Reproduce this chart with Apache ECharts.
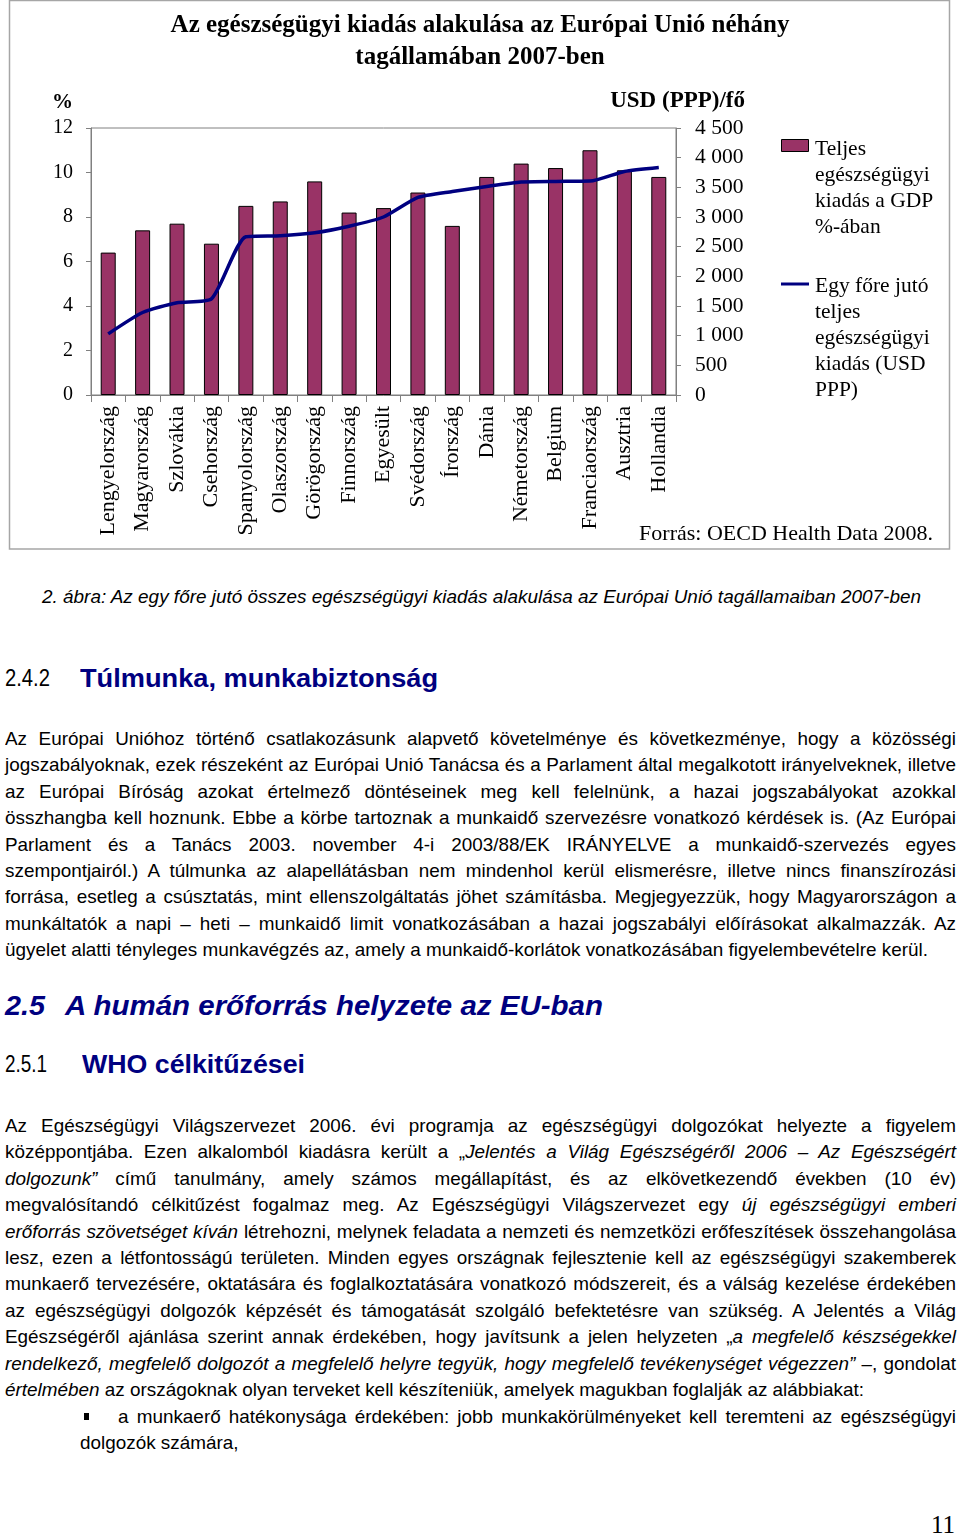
<!DOCTYPE html>
<html><head><meta charset="utf-8">
<script src="https://cdn.jsdelivr.net/npm/echarts@6/dist/echarts.min.js"></script>
<style>
html,body{margin:0;padding:0;background:#fff;}
#page{position:relative;width:960px;height:1536px;overflow:hidden;background:#fff;}
#chart{position:absolute;left:0;top:0;width:960px;height:560px;}
.ln{position:absolute;left:5px;font-family:"Liberation Sans",Arial,sans-serif;font-size:19px;line-height:26px;white-space:nowrap;transform-origin:0 0;color:#000;}
.h{position:absolute;font-family:"Liberation Sans",Arial,sans-serif;white-space:nowrap;transform-origin:0 0;line-height:30px;}
.navy{color:#000080;font-weight:bold;}
</style></head>
<body><div id="page">
<div id="chart"></div>

<div class="h fit" data-w="879" style="left:42px;top:584px;font-size:19px;font-style:italic;line-height:26px;">2. ábra: Az egy főre jutó összes egészségügyi kiadás alakulása az Európai Unió tagállamaiban 2007-ben</div>

<div class="h fit" data-w="45" style="left:5px;top:663px;font-size:24px;">2.4.2</div>
<div class="h fit navy" data-w="358" style="left:80px;top:663px;font-size:26.5px;">Túlmunka, munkabiztonság</div>

<div class="ln j" style="top:726px">Az Európai Unióhoz történő csatlakozásunk alapvető követelménye és következménye, hogy a közösségi</div>
<div class="ln j" style="top:752px">jogszabályoknak, ezek részeként az Európai Unió Tanácsa és a Parlament által megalkotott irányelveknek, illetve</div>
<div class="ln j" style="top:779px">az Európai Bíróság azokat értelmező döntéseinek meg kell felelnünk, a hazai jogszabályokat azokkal</div>
<div class="ln j" style="top:805px">összhangba kell hoznunk. Ebbe a körbe tartoznak a munkaidő szervezésre vonatkozó kérdések is. (Az Európai</div>
<div class="ln j" style="top:832px">Parlament és a Tanács 2003. november 4-i 2003/88/EK IRÁNYELVE a munkaidő-szervezés egyes</div>
<div class="ln j" style="top:858px">szempontjairól.) A túlmunka az alapellátásban nem mindenhol kerül elismerésre, illetve nincs finanszírozási</div>
<div class="ln j" style="top:884px">forrása, esetleg a csúsztatás, mint ellenszolgáltatás jöhet számításba. Megjegyezzük, hogy Magyarországon a</div>
<div class="ln j" style="top:911px">munkáltatók a napi – heti – munkaidő limit vonatkozásában a hazai jogszabályi előírásokat alkalmazzák. Az</div>
<div class="ln" id="refline" style="top:937px">ügyelet alatti tényleges munkavégzés az, amely a munkaidő-korlátok vonatkozásában figyelembevételre kerül.</div>

<div class="h fit" data-w="40" style="left:5px;top:991px;font-size:27px;font-weight:bold;font-style:italic;color:#000080;">2.5</div>
<div class="h fit" data-w="538" style="left:65px;top:991px;font-size:27px;font-weight:bold;font-style:italic;color:#000080;">A humán erőforrás helyzete az EU-ban</div>

<div class="h fit" data-w="42" style="left:5px;top:1049px;font-size:24px;">2.5.1</div>
<div class="h fit navy" data-w="223" style="left:82px;top:1049px;font-size:26.5px;">WHO célkitűzései</div>

<div class="ln j" style="top:1113px">Az Egészségügyi Világszervezet 2006. évi programja az egészségügyi dolgozókat helyezte a figyelem</div>
<div class="ln j" style="top:1139px">középpontjába. Ezen alkalomból kiadásra került a „<i>Jelentés a Világ Egészségéről 2006 – Az Egészségért</i></div>
<div class="ln j" style="top:1166px"><i>dolgozunk”</i> című tanulmány, amely számos megállapítást, és az elkövetkezendő években (10 év)</div>
<div class="ln j" style="top:1192px">megvalósítandó célkitűzést fogalmaz meg. Az Egészségügyi Világszervezet egy <i>új egészségügyi emberi</i></div>
<div class="ln j" style="top:1219px"><i>erőforrás szövetséget kíván</i> létrehozni, melynek feladata a nemzeti és nemzetközi erőfeszítések összehangolása</div>
<div class="ln j" style="top:1245px">lesz, ezen a létfontosságú területen. Minden egyes országnak fejlesztenie kell az egészségügyi szakemberek</div>
<div class="ln j" style="top:1271px">munkaerő tervezésére, oktatására és foglalkoztatására vonatkozó módszereit, és a válság kezelése érdekében</div>
<div class="ln j" style="top:1298px">az egészségügyi dolgozók képzését és támogatását szolgáló befektetésre van szükség. A Jelentés a Világ</div>
<div class="ln j" style="top:1324px">Egészségéről ajánlása szerint annak érdekében, hogy javítsunk a jelen helyzeten „<i>a megfelelő készségekkel</i></div>
<div class="ln j" style="top:1351px"><i>rendelkező, megfelelő dolgozót a megfelelő helyre tegyük, hogy megfelelő tevékenységet végezzen”</i> –, gondolat</div>
<div class="ln" style="top:1377px"><i>értelmében</i> az országoknak olyan terveket kell készíteniük, amelyek magukban foglalják az alábbiakat:</div>

<div style="position:absolute;left:84px;top:1413px;width:5px;height:7px;background:#000;"></div>
<div class="ln j" data-left="118" style="left:118px;top:1404px">a munkaerő hatékonysága érdekében: jobb munkakörülményeket kell teremteni az egészségügyi</div>
<div class="ln" style="left:80px;top:1430px">dolgozók számára,</div>

<div style="position:absolute;right:5px;top:1510px;font-family:'Liberation Serif',serif;font-size:25px;line-height:30px;">11</div>
</div>
<script>
// ---- chart data ----
const categories = ['Lengyelország','Magyarország','Szlovákia','Csehország','Spanyolország','Olaszország','Görögország','Finnország','Egyesült','Svédország','Írország','Dánia','Németország','Belgium','Franciaország','Ausztria','Hollandia'];
const gdpShare = [6.4, 7.4, 7.7, 6.8, 8.5, 8.7, 9.6, 8.2, 8.4, 9.1, 7.6, 9.8, 10.4, 10.2, 11.0, 10.1, 9.8];
const perCapitaUSD = [1030, 1390, 1555, 1620, 2668, 2685, 2735, 2845, 3000, 3330, 3430, 3515, 3590, 3600, 3605, 3768, 3835];
const leftAxisMax = 12, leftAxisStep = 2;
const rightAxisMax = 4500, rightAxisStep = 500;
const titleText = 'Az egészségügyi kiadás alakulása az Európai Unió néhány\ntagállamában 2007-ben';
const seriesNames = ['Teljes egészségügyi kiadás a GDP %-ában', 'Egy főre jutó teljes egészségügyi kiadás (USD PPP)'];
const legendTexts = ['Teljes\negészségügyi\nkiadás a GDP\n%-ában', 'Egy főre jutó\nteljes\negészségügyi\nkiadás (USD\nPPP)'];
const sourceText = 'Forrás: OECD Health Data 2008.';

const SERIF = '"Liberation Serif","Times New Roman",serif';
const BAR = '#993366', LINE = '#000080', AX = '#808080';

const chart = echarts.init(document.getElementById('chart'), null, {renderer:'canvas'});
function thou(v){ return String(v).replace(/\B(?=(\d{3})+(?!\d))/g, ' '); }
chart.setOption({
  animation:false,
  backgroundColor:'transparent',
  title:{text:titleText,left:'center',top:5,textStyle:{fontFamily:SERIF,fontWeight:'bold',fontSize:25,lineHeight:32,color:'#000'}},
  grid:{left:91,top:128,width:585,height:267,show:true,borderColor:AX,borderWidth:1,containLabel:false},
  xAxis:{type:'category',data:categories,boundaryGap:true,
    axisLine:{lineStyle:{color:AX,width:1}},
    axisTick:{show:true,length:7,lineStyle:{color:AX}},
    axisLabel:{rotate:90,interval:0,margin:11,fontFamily:SERIF,fontSize:22,color:'#000'}},
  yAxis:[
    {type:'value',min:0,max:leftAxisMax,interval:leftAxisStep,position:'left',
     axisLine:{show:true,lineStyle:{color:AX}},axisTick:{show:true,length:5,lineStyle:{color:AX}},
     splitLine:{show:false},axisLabel:{margin:18,fontFamily:SERIF,fontSize:20,color:'#000'}},
    {type:'value',min:0,max:rightAxisMax,interval:rightAxisStep,position:'right',
     axisLine:{show:true,lineStyle:{color:AX}},axisTick:{show:true,length:5,lineStyle:{color:AX}},
     splitLine:{show:false},axisLabel:{margin:19,align:'left',fontFamily:SERIF,fontSize:21.5,color:'#000',formatter:thou}}
  ],
  series:[
    {name:seriesNames[0],type:'bar',yAxisIndex:0,data:gdpShare,barWidth:15,
     itemStyle:{color:BAR,borderColor:'#000',borderWidth:1}},
    {name:seriesNames[1],type:'line',yAxisIndex:1,data:perCapitaUSD,smooth:0.2,showSymbol:false,symbol:'none',
     lineStyle:{color:LINE,width:3.5},z:5}
  ],
  graphic:[
    {type:'rect',shape:{x:9.5,y:0.5,width:940,height:548.5},style:{fill:'none',stroke:'#a6a6a6',lineWidth:1.5},silent:true},
    {type:'text',x:73,y:103,style:{text:'%',font:'bold 21px '+SERIF,fill:'#000',textAlign:'right',textVerticalAlign:'middle'}},
    {type:'text',x:745,y:101,style:{text:'USD (PPP)/fő',font:'bold 23px '+SERIF,fill:'#000',textAlign:'right',textVerticalAlign:'middle'}},
    {type:'rect',shape:{x:781.5,y:139.5,width:27,height:12},style:{fill:BAR,stroke:'#000',lineWidth:1}},
    {type:'text',x:815,y:136,style:{text:legendTexts[0],font:'21.5px '+SERIF,lineHeight:26,fill:'#000',textAlign:'left',textVerticalAlign:'top'}},
    {type:'line',shape:{x1:781,y1:284,x2:809,y2:284},style:{stroke:LINE,lineWidth:3}},
    {type:'text',x:815,y:273,style:{text:legendTexts[1],font:'21.5px '+SERIF,lineHeight:26,fill:'#000',textAlign:'left',textVerticalAlign:'top'}},
    {type:'text',x:933,y:534,style:{text:sourceText,font:'22px '+SERIF,fill:'#000',textAlign:'right',textVerticalAlign:'middle'}}
  ]
});

// ---- text line fitting ----
(function(){
  const RIGHT = 956;
  const ref = document.getElementById('refline');
  const s = 923 / ref.getBoundingClientRect().width;
  document.querySelectorAll('.ln').forEach(el=>{
    const left = parseFloat(el.style.left || '5') || 5;
    const nat = el.getBoundingClientRect().width;
    if (el.classList.contains('j')) {
      const W = RIGHT - left;
      const sc = Math.min(s, (W - 0.5) / nat);
      el.style.whiteSpace = 'normal';
      el.style.width = (W / sc) + 'px';
      el.style.textAlign = 'justify';
      el.style.textAlignLast = 'justify';
      el.style.transform = 'scaleX(' + sc + ')';
    } else {
      el.style.transform = 'scaleX(' + s + ')';
    }
  });
  document.querySelectorAll('.fit').forEach(el=>{
    const nat = el.getBoundingClientRect().width;
    const w = parseFloat(el.dataset.w);
    el.style.transform = 'scaleX(' + (w / nat) + ')';
  });
})();
</script>
</body></html>
